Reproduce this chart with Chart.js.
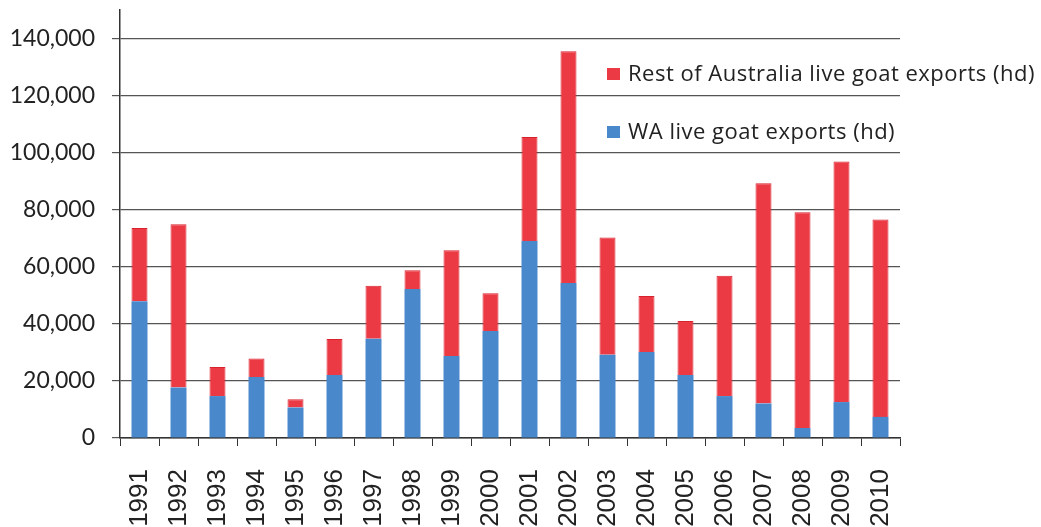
<!DOCTYPE html>
<html>
<head>
<meta charset="utf-8">
<script src="https://cdn.jsdelivr.net/npm/chart.js@4/dist/chart.umd.min.js"></script>
<style>
  html, body { margin: 0; padding: 0; background: #fff; }
  #wrap { position: relative; width: 1041px; height: 527px; }
  .legend { position: absolute; left: 607px; font-family: "Open Sans", sans-serif; font-size: 22px; letter-spacing: 0.5px; color: #222; white-space: nowrap; }
  .legend span { display: inline-block; width: 13px; height: 12px; margin-right: 8px; vertical-align: 1px; }
</style>
</head>
<body>
<div id="wrap">
  <canvas id="chart" width="1041" height="527"></canvas>
  <div class="legend" style="top:57px"><span style="background:#ec3a44"></span>Rest of Australia live goat exports (hd)</div>
  <div class="legend" style="top:115px"><span style="background:#4a88cc"></span>WA live goat exports (hd)</div>
</div>
<script>
// live goat exports, head per year
const years = ['1991','1992','1993','1994','1995','1996','1997','1998','1999','2000',
               '2001','2002','2003','2004','2005','2006','2007','2008','2009','2010'];
const wa_exports = [47900, 17700, 14700, 21400, 10700, 22100, 34800, 52200, 28700, 37500,
                    69000, 54300, 29200, 30100, 22100, 14700, 12100, 3500, 12600, 7400];
const rest_exports = [25700, 57200, 10200, 6500, 2900, 12600, 18600, 6600, 37100, 13200,
                      36500, 81200, 41100, 19700, 18900, 42200, 77200, 75600, 84300, 69200];
const y_ticks = [0, 20000, 40000, 60000, 80000, 100000, 120000, 140000];

const canvas = document.getElementById('chart');

const config = {
    type: 'bar',
    data: {
        labels: years,
        datasets: [
            {
                label: 'WA live goat exports (hd)',
                data: wa_exports,
                backgroundColor: '#4a88cc',
                borderWidth: 0,
            },
            {
                label: 'Rest of Australia live goat exports (hd)',
                data: rest_exports,
                backgroundColor: '#ec3a44',
                borderColor: '#d8232e',
                borderWidth: {left: 1, right: 1, top: 1, bottom: 0},
            },
        ]
    },
    options: {
        responsive: false,
        animation: false,
        datasets: {
            bar: { barPercentage: 0.41, categoryPercentage: 1.0 }
        },
        layout: {
            padding: { left: 0, right: 141, top: 10, bottom: 0 }
        },
        plugins: {
            legend: { display: false },
            tooltip: { enabled: false },
        },
        scales: {
            x: {
                stacked: true,
                offset: true,
                grid: {
                    display: true,
                    offset: true,
                    drawOnChartArea: false,
                    color: '#333',
                    tickLength: 8,
                },
                border: { color: '#333', width: 1.5 },
                ticks: {
                    color: '#222',
                    font: { family: '"Liberation Sans", Arial, sans-serif', size: 26 },
                    minRotation: 90,
                    maxRotation: 90,
                    padding: 23,
                },
                afterFit: axis => {
                    axis.height = 89;
                    axis.paddingLeft = 0;
                    axis.paddingRight = 0;
                },
            },
            y: {
                stacked: true,
                min: 0,
                max: 150000,
                // only the round ticks get a label and a grid line
                afterBuildTicks: axis => {
                    axis.ticks = y_ticks.map(v => ({ value: v }));
                },
                grid: {
                    color: '#555',
                    lineWidth: 1.2,
                    tickLength: 8,
                },
                border: { color: '#333', width: 1.5 },
                ticks: {
                    color: '#222',
                    font: { family: 'Lato, "Open Sans", sans-serif', size: 23 },
                    padding: 17,
                    callback: v => v.toLocaleString('en-US'),
                },
                afterFit: axis => {
                    axis.width = 120;
                    axis.paddingTop = 0;
                    axis.paddingBottom = 0;
                },
            }
        }
    }
};

const barchart = new Chart(canvas, config);
</script>
</body>
</html>
